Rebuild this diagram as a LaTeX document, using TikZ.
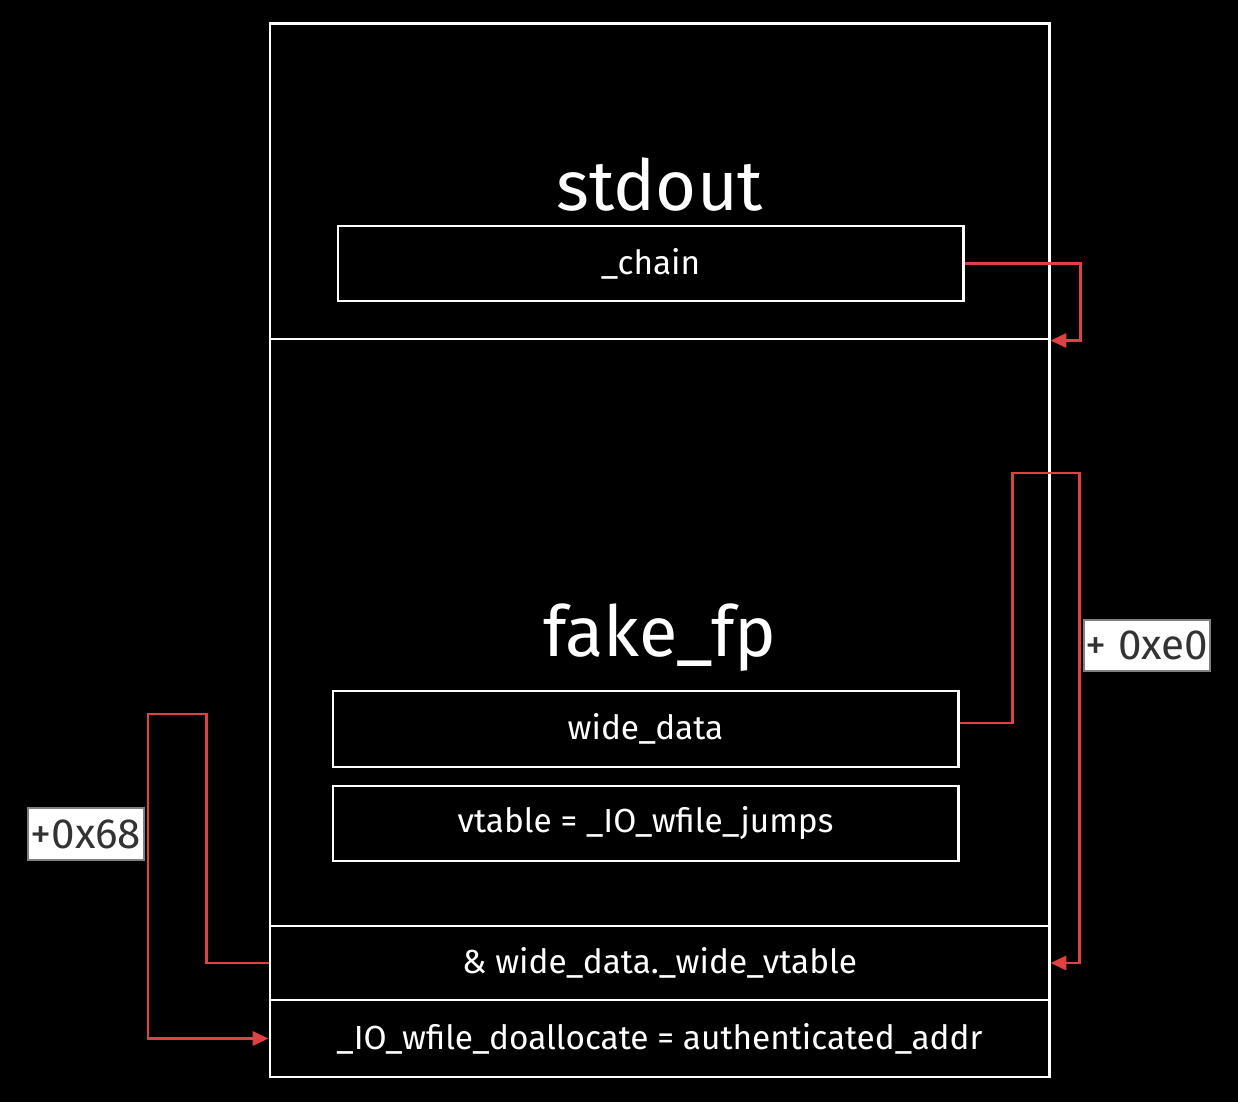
\documentclass[tikz,border=0pt]{standalone}
\usepackage{fontspec}
\setmainfont{Fira Sans}
\usepackage{tikz}
\usetikzlibrary{arrows.meta}
\definecolor{rojo}{RGB}{224,66,66}
\definecolor{tinta}{RGB}{51,51,51}
\tikzset{
  caja/.style={draw=white, line width=1.7pt, fill=none, text=white, inner sep=0pt},
  campo/.style={caja, font=\fontsize{19}{22}\selectfont},
  titulo/.style={text=white, font=\fontsize{40}{46}\selectfont},
  flecha/.style={draw=rojo, line width=1.7pt, -{Triangle[length=9pt,width=8pt]}},
  etiqueta/.style={fill=white, draw=gray, line width=0.6pt, text=tinta, inner sep=1pt,
    font=\fontsize{24}{28}\selectfont}
}
\begin{document}
\begin{tikzpicture}
  % Fondo
  \fill[black] (0,0) rectangle (24.76,22.04);
  \useasboundingbox (0,0) rectangle (24.76,22.04);

  % Estructuras
  \node[caja, minimum width=15.58cm, minimum height=6.30cm] (stdout) at (13.19,18.41) {};
  \node[caja, minimum width=15.58cm, minimum height=11.74cm] (fakefp) at (13.19,9.39) {};
  \node[campo, minimum width=15.58cm, minimum height=1.48cm] (vtab) at (13.19,2.78) {\& wide\_data.\_wide\_vtable};
  \node[campo, minimum width=15.58cm, minimum height=1.54cm] (alloc) at (13.19,1.27) {\_IO\_wfile\_doallocate = authenticated\_addr};

  % Titulos
  \node[titulo] (tstdout) at (13.2,18.34) {stdout};
  \node[titulo] (tfakefp) at (13.2,9.28) {fake\_fp};

  % Campos
  \node[campo, minimum width=12.50cm, minimum height=1.50cm] (chain) at (13.01,16.77) {\_chain};
  \node[campo, minimum width=12.50cm, minimum height=1.52cm] (wide) at (12.91,7.46) {wide\_data};
  \node[campo, minimum width=12.50cm, minimum height=1.50cm] (vtable) at (12.91,5.57) {vtable = \_IO\_wfile\_jumps};

  % Codos
  \coordinate (codo) at (21.58,12.58);
  \coordinate (codoizq) at (2.96,7.76);

  % Flechas
  \draw[flecha] (chain.east) -- ++(2.32,0) |- ([yshift=-0.06cm]fakefp.north east);
  \draw[flecha] ([yshift=0.12cm]wide.east) -- ++(1.06,0) |- (codo) |- (vtab.east);
  \draw[flecha] (vtab.west) -- ++(-1.24,0) |- (codoizq) |- (alloc.west);

  % Desplazamientos
  \node[etiqueta, minimum width=2.52cm, minimum height=1.02cm] (offe0) at (22.94,9.13) {+ 0xe0};
  \node[etiqueta, minimum width=2.32cm, minimum height=1.04cm] (off68) at (1.72,5.36) {+0x68};
\end{tikzpicture}
\end{document}
